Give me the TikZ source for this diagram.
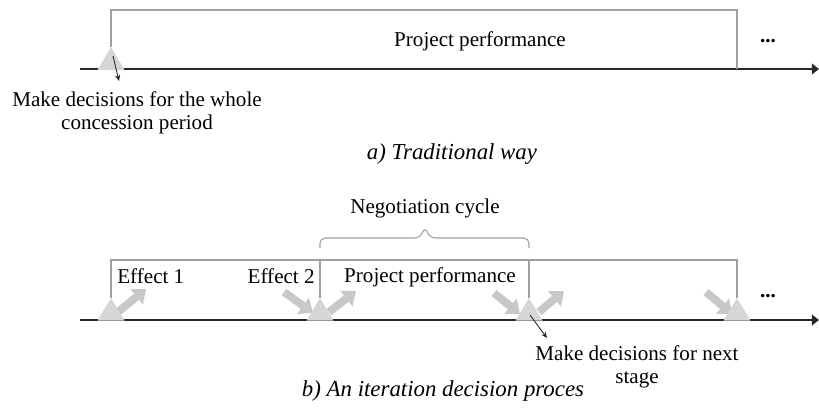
\documentclass[tikz,border=0pt]{standalone}
\usepackage{fontspec}
\setmainfont{Liberation Serif}
\usetikzlibrary{arrows.meta, positioning, calc}
\definecolor{cAxis}{RGB}{40,40,40}
\definecolor{cFrame}{RGB}{160,160,160}
\definecolor{cMilestone}{RGB}{214,214,214}
\definecolor{cEffect}{RGB}{200,200,200}
\tikzset{
	axis/.style     ={line width=1.3pt, cAxis, -{Triangle[length=4pt, width=6pt]}},
	frame/.style    ={line width=0.6pt, cFrame},
	milestone/.style={fill=cMilestone, draw=none},
	effect/.style   ={line width=4.5pt, cEffect, -{Triangle[length=7pt, width=11pt]}},
	pointer/.style  ={line width=0.5pt, cAxis, -{Stealth[length=3.5pt, width=3pt]}},
	lbl/.style      ={inner sep=0pt, anchor=base, font=\fontsize{12}{13.5}\selectfont},
	note/.style     ={inner sep=0pt, anchor=north, align=center, font=\fontsize{12}{13}\selectfont},
	caption/.style  ={inner sep=0pt, anchor=base, font=\fontsize{13}{15}\selectfont\itshape},
}
\begin{document}
\begin{tikzpicture}[x=0.02cm, y=-0.02cm]
	\useasboundingbox (0,0) rectangle (819,414);

	% a) traditional way
	\coordinate (a0) at (111,47);
	\coordinate (aEnd) at (737,69);
	\draw[axis] (80,69) -- (819,69);
	\draw[frame] (a0) -- (111,10) -- (737,10) -- (aEnd);
	\fill[milestone] (97.5,70) -- (124.5,70) -- (a0) -- cycle;
	\node[lbl] (perfA) at (480,46) {Project performance};
	\node[lbl] (dotsA) at (768,42) {\textbf{...}};
	\node[note] (decA) at (137,91) {Make decisions for the whole\\ concession period};
	\coordinate (decAtip) at (119,81);
	\draw[pointer] (113,56) -- (decAtip);
	\node[caption] (capA) at (452,159) {a) Traditional way};

	% b) iteration decision process
	\coordinate (b1) at (111,298);
	\coordinate (b2) at (320,298);
	\coordinate (b3) at (529,298);
	\coordinate (b4) at (737,298);
	\draw[axis] (80,320) -- (819,320);
	\draw[frame] (b1) -- (111,260) -- (737,260) -- (b4);
	\draw[frame] (b2) -- (320,260);
	\draw[frame] (b3) -- (529,260);
	% negotiation brace over the middle stage
	\draw[frame, rounded corners=3pt] (320,248) -- (320,238) -- (420,238) -- (425,227) -- (430,238) -- (529,238) -- (529,248);
	\node[lbl] (nego) at (425,213) {Negotiation cycle};

	% effects going in and out of each decision point
	\draw[effect] (118,312) -- (146,289);
	\draw[effect] (284,292) -- (313,313);
	\draw[effect] (329,312) -- (356,291);
	\draw[effect] (494,293) -- (520,314);
	\draw[effect] (539,312) -- (564,291);
	\draw[effect] (706,292) -- (732,314);

	\foreach \b in {b1, b2, b3, b4}
		\fill[milestone] ($(\b)+(-13.5,22.5)$) -- ($(\b)+(13.5,22.5)$) -- (\b) -- cycle;

	\node[lbl, anchor=base west] (eff1) at (117,283) {Effect 1};
	\node[lbl, anchor=base east] (eff2) at (315,283) {Effect 2};
	\node[lbl] (perfB) at (430,282) {Project performance};
	\node[lbl] (dotsB) at (768,297) {\textbf{...}};
	\node[note] (decB) at (637,345) {Make decisions for next\\ stage};
	\coordinate (decBtip) at (547,338);
	\draw[pointer] (530,315) -- (decBtip);
	\node[caption] (capB) at (443,396) {b) An iteration decision proces};
\end{tikzpicture}
\end{document}
